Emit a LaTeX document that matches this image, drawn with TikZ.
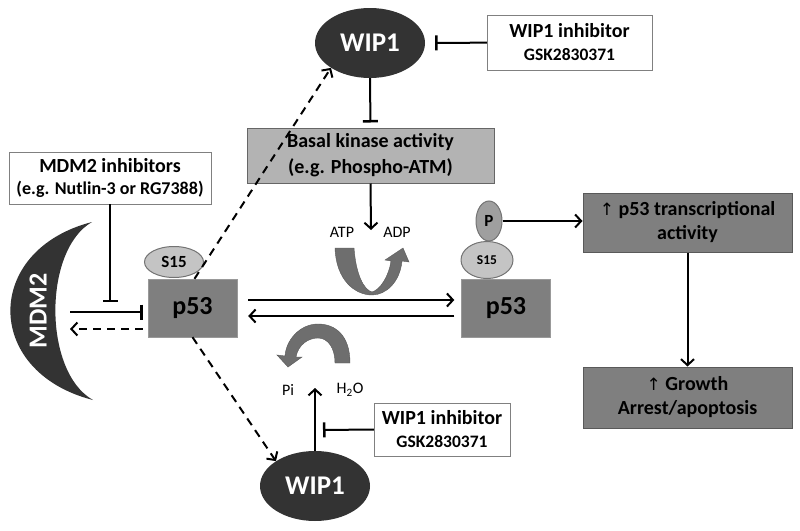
\documentclass[tikz,border=0pt]{standalone}
\usepackage{fontspec}
\setmainfont{Carlito}
\newfontfamily\symfont{DejaVu Sans}
\usetikzlibrary{arrows.meta,shapes.geometric}
\definecolor{darkwip}{HTML}{333333}
\definecolor{boxgray}{HTML}{7F7F7F}
\definecolor{kinasegray}{HTML}{B3B3B3}
\definecolor{sitegray}{HTML}{C4C4C4}
\definecolor{ribbon}{HTML}{6E6E6E}
\newcommand{\upar}{{\symfont\mdseries\fontsize{17}{20}\selectfont ↑}}

\begin{document}
\begin{tikzpicture}[x=1pt, y=-1pt,
    wip/.style={ellipse, fill=darkwip, text=white, minimum width=110pt, minimum height=70pt, inner sep=0pt, font=\fontsize{27}{30}\selectfont\bfseries},
    inhib/.style={draw=gray, fill=white, align=center, inner sep=0pt, font=\fontsize{20}{23}\selectfont\bfseries},
    pbox/.style={fill=boxgray, draw=boxgray!80!white, minimum width=89pt, minimum height=58pt, inner sep=0pt, font=\fontsize{26}{28}\selectfont\bfseries},
    site/.style={ellipse, fill=sitegray, draw=gray!90!black, line width=1pt, inner sep=0pt, font=\bfseries},
    outbox/.style={fill=boxgray, draw=gray!70!black, line width=1pt, align=center, minimum width=209pt, inner sep=0pt, font=\fontsize{20}{24}\selectfont\bfseries},
    small/.style={font=\fontsize{16}{18}\selectfont},
    arr/.style={line width=2pt, -{Straight Barb[length=6pt,width=13pt,line width=2pt]}},
    inh/.style={line width=2pt, -{Bar[width=15pt,line width=2.5pt]}},
    dasharr/.style={arr, dash pattern=on 8pt off 6pt}
]
\useasboundingbox (0,0) rectangle (800,530);

% MDM2 crescent
\fill[darkwip] (92,222) .. controls (-17,250) and (-17,372) .. (93,400) .. controls (43,372) and (43,250) .. (92,222) -- cycle;
\node[rotate=90, text=white, font=\fontsize{26}{28}\selectfont\bfseries] (mdm) at (38,311) {MDM2};
\coordinate (mdmin) at (70,312);
\coordinate (mdmout) at (70,329);

% Boxes
\node[inhib, minimum width=202pt, minimum height=52pt] (mi) at (110,178) {MDM2 inhibitors\\[-1pt]{\fontsize{18}{21}\selectfont (e.g. Nutlin-3 or RG7388)}};
\node[wip] (wt) at (370,43) {WIP1};
\node[inhib, minimum width=165pt, minimum height=55pt] (wi1) at (569.5,42.5) {WIP1 inhibitor\\{\fontsize{17.5}{20}\selectfont GSK2830371}};
\node[fill=kinasegray, draw=gray!80!black, line width=1pt, align=center, minimum width=247pt, minimum height=55pt, inner sep=0pt, font=\fontsize{20}{26}\selectfont\bfseries] (kb) at (370.5,155.5) {Basal kinase activity\\(e.g. Phospho-ATM)};

\node[pbox] (lp) at (192.5,308) {p53};
\node[site, minimum width=59pt, minimum height=31pt, font=\fontsize{17}{19}\selectfont\bfseries] (ls) at (174,262) {S15};
\node[pbox] (rp) at (506,308) {p53};
\node[site, minimum width=52pt, minimum height=37pt, font=\fontsize{13.5}{15}\selectfont\bfseries] (rs) at (487,260) {S15};
\node[site, fill=boxgray!75!white, minimum width=26pt, minimum height=40pt, font=\fontsize{17}{19}\selectfont\bfseries] (pp) at (489,221) {P};

\node[wip] (wb) at (315,486) {WIP1};
\node[inhib, minimum width=136pt, minimum height=53pt] (wi2) at (442,429.5) {WIP1 inhibitor\\{\fontsize{17.5}{20}\selectfont GSK2830371}};

\node[outbox, minimum height=59pt] (tb) at (687.5,222.5) {\upar\ p53 transcriptional\\activity};
\node[outbox, minimum height=61pt] (gb) at (687.5,397.5) {\upar\ Growth\\Arrest/apoptosis};

% ATP / ADP and Pi / H2O
\node[small] (atp) at (342,232) {ATP};
\node[small] (adp) at (397,232) {ADP};
\coordinate (phos) at (371,230);
\node[small] (pi) at (288,390) {Pi};
\node[small] (hto) at (350,390) {H\textsubscript{2}O};
\coordinate (dephos) at (315,388);

% Ribbon arrows
\fill[ribbon, draw=ribbon!80!black] (335,248) -- (354,248) .. controls (356,275) and (364,290) .. (372,292) .. controls (380,290) and (389,276) .. (391,261) -- (385,260) -- (403,248) -- (409,262) -- (402,261) .. controls (400,282) and (386,295) .. (372,295) .. controls (355,295) and (336,280) .. (335,248) -- cycle;
\fill[ribbon, draw=ribbon!80!black] (350,363) .. controls (350,335) and (335,324) .. (318,324) .. controls (300,324) and (286,340) .. (285,356) -- (277,355) -- (288,367) -- (302,357) -- (296,357) .. controls (298,345) and (308,338) .. (318,338) .. controls (328,338) and (335,348) .. (335,363) -- cycle;

% Connectors
\draw[inh, shorten >=10pt] (wi1) -- (wt);
\draw[inh, shorten >=5pt] (wt.south) -- (kb.north);
\draw[arr] (kb.south) -- (phos);
\draw[dasharr] ([xshift=2pt]lp.north) -- (wt.south west);
\draw[inh] (mi.south) -- (110,302);
\draw[inh, shorten >=5pt] (mdmin) -- ([yshift=-4pt]lp.west);
\draw[dasharr, shorten <=5pt] ([yshift=-21pt]lp.west) -- (mdmout);
\draw[arr, shorten <=11pt, shorten >=7pt] ([yshift=8pt]lp.east) -- ([yshift=8pt]rp.west);
\draw[arr, shorten <=7pt, shorten >=11pt] ([yshift=-8pt]rp.west) -- ([yshift=-8pt]lp.east);
\draw[dasharr] (lp.south) -- (wb.north west);
\draw[arr] (wb.north) -- (dephos);
\draw[inh, shorten >=1pt] (wi2.west) -- (322,430);
\draw[arr] (pp.east) -- (pp.east -| tb.west);
\draw[arr] (tb.south) -- (gb.north);
\end{tikzpicture}
\end{document}
